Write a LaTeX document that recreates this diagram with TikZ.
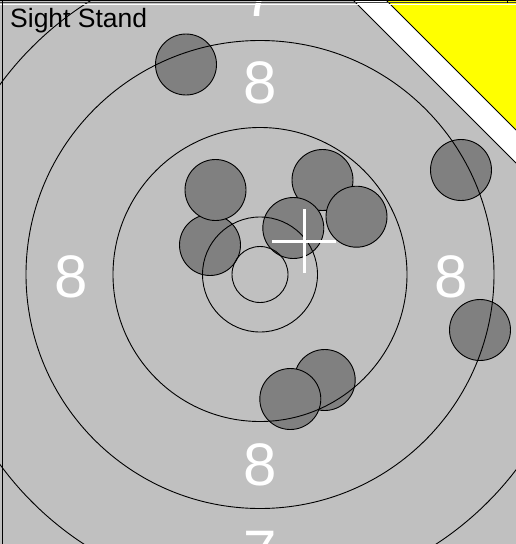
\documentclass[tikz,border=0pt]{standalone}
\usepackage{fontspec}
\setmainfont{Liberation Sans}
\definecolor{bggray}{HTML}{C0C0C0}
\definecolor{shotgray}{HTML}{808080}
\definecolor{bandyellow}{HTML}{FFFF00}
\definecolor{framegray}{HTML}{404040}
\begin{document}
\begin{tikzpicture}[x=1pt,y=-1pt,
  shot/.style={circle,draw=black,fill=shotgray,line width=0.9pt,minimum size=61pt,inner sep=0pt},
  ringline/.style={draw=black,line width=0.9pt},
  ringnum/.style={text=white,font=\fontsize{60}{60}\selectfont,inner sep=0pt,anchor=center},
  bandline/.style={draw=black,line width=0.9pt},
  crossline/.style={draw=white,line width=3pt},
  framestroke/.style={line width=1.3pt}]
\useasboundingbox (0,0) rectangle (516,544);
\clip (0,0) rectangle (516,544);
% background
\fill[bggray] (0,0) rectangle (516,544);
% target centre
\coordinate (c) at (260,274.5);
% ring numbers
\node[ringnum] (n8t) at (260,83) {8};
\node[ringnum] (n8b) at (260,465) {8};
\node[ringnum] (n8l) at (71,277) {8};
\node[ringnum] (n8r) at (451,277) {8};
\node[ringnum] (n7t) at (260,-4) {7};
\node[ringnum] (n7b) at (260,552) {7};
% shots
\node[shot] (sB) at (210,245) {};
\node[shot] (sA) at (215.5,190) {};
\node[shot] (sD) at (322.5,180) {};
\node[shot] (sE) at (356.5,216.7) {};
\node[shot] (sC) at (293.3,228) {};
\node[shot] (sH) at (324.7,380) {};
\node[shot] (sI) at (290.3,399) {};
\node[shot] (sF) at (461,170) {};
\node[shot] (sG) at (480,330) {};
\node[shot] (sJ) at (186,64.5) {};
% rings
\draw[ringline] (c) circle (28pt);
\draw[ringline] (c) circle (57.5pt);
\draw[ringline] (c) circle (147pt);
\draw[ringline] (c) circle (234pt);
\draw[ringline] (c) circle (322pt);
% diagonal band (covers the rings)
\fill[white] (353,0) -- (516,0) -- (516,163) -- cycle;
\fill[bandyellow] (386,0) -- (516,0) -- (516,130) -- cycle;
\coordinate (l1a) at (353,0);
\coordinate (l1b) at (516,163);
\coordinate (l2a) at (386,0);
\coordinate (l2b) at (516,130);
\draw[bandline] (l1a) -- (l1b);
\draw[bandline] (l2a) -- (l2b);
% aiming cross
\coordinate (x0) at (304,241);
\coordinate (xt) at (304,209);
\coordinate (xb) at (304,273);
\coordinate (xl) at (272,241);
\coordinate (xr) at (336,241);
\draw[crossline] (xt) -- (xb);
\draw[crossline] (xl) -- (xr);
% title
\node[anchor=base west,inner sep=0pt,font=\fontsize{26.5}{30}\selectfont] (title) at (10,27) {Sight Stand};
% frame
\fill[white] (0,3.5) rectangle (516,4.5);
\coordinate (ft1) at (0,0.6);
\coordinate (ft2) at (516,0.6);
\coordinate (fs1) at (0,2.8);
\coordinate (fs2) at (516,2.8);
\coordinate (fl1) at (2.6,0);
\coordinate (fl2) at (2.6,544);
\coordinate (tk1) at (507.5,0);
\coordinate (tk2) at (507.5,3);
\draw[framestroke,black] (ft1) -- (ft2);
\draw[framestroke,framegray] (fs1) -- (fs2);
\draw[framestroke,black] (fl1) -- (fl2);
\draw[framestroke,black] (tk1) -- (tk2);
\end{tikzpicture}
\end{document}
